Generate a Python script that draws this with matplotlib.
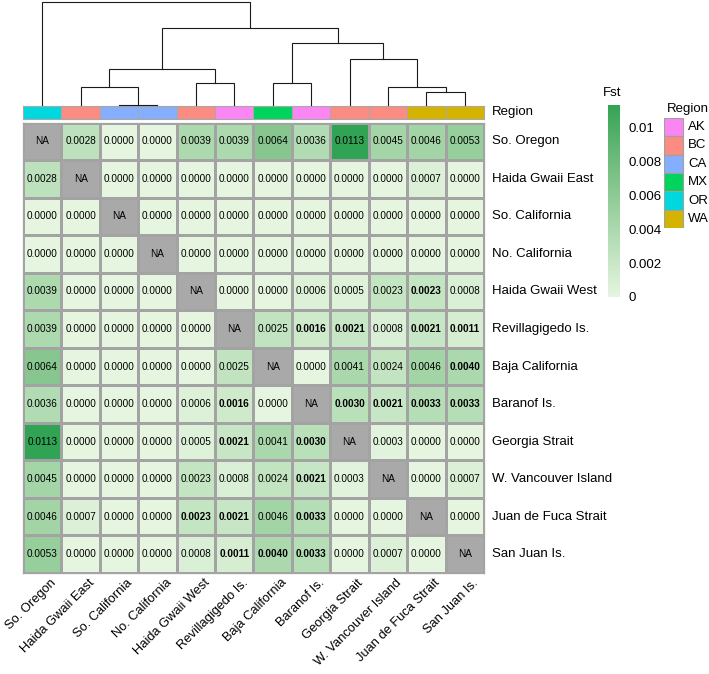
import numpy as np
import matplotlib
matplotlib.use("Agg")
import matplotlib.pyplot as plt
from matplotlib.colors import ListedColormap, Normalize
from matplotlib.patches import Rectangle

plt.rcParams['font.family'] = ['Liberation Sans', 'DejaVu Sans']

# ---------------- data ----------------
sites = ["So. Oregon", "Haida Gwaii East", "So. California", "No. California",
         "Haida Gwaii West", "Revillagigedo Is.", "Baja California", "Baranof Is.",
         "Georgia Strait", "W. Vancouver Island", "Juan de Fuca Strait", "San Juan Is."]
regions = ["OR", "BC", "CA", "CA", "BC", "AK", "MX", "AK", "BC", "BC", "WA", "WA"]

nan = np.nan
fst = np.array([
    [nan, .0028, 0, 0, .0039, .0039, .0064, .0036, .0113, .0045, .0046, .0053],
    [.0028, nan, 0, 0, 0, 0, 0, 0, 0, 0, .0007, 0],
    [0, 0, nan, 0, 0, 0, 0, 0, 0, 0, 0, 0],
    [0, 0, 0, nan, 0, 0, 0, 0, 0, 0, 0, 0],
    [.0039, 0, 0, 0, nan, 0, 0, .0006, .0005, .0023, .0023, .0008],
    [.0039, 0, 0, 0, 0, nan, .0025, .0016, .0021, .0008, .0021, .0011],
    [.0064, 0, 0, 0, 0, .0025, nan, 0, .0041, .0024, .0046, .0040],
    [.0036, 0, 0, 0, .0006, .0016, 0, nan, .0030, .0021, .0033, .0033],
    [.0113, 0, 0, 0, .0005, .0021, .0041, .0030, nan, .0003, 0, 0],
    [.0045, 0, 0, 0, .0023, .0008, .0024, .0021, .0003, nan, 0, .0007],
    [.0046, .0007, 0, 0, .0023, .0021, .0046, .0033, 0, 0, nan, 0],
    [.0053, 0, 0, 0, .0008, .0011, .0040, .0033, 0, .0007, 0, nan],
])
# significant (bold) values
bold = np.array([
    [0,0,0,0,0,0,0,0,0,0,0,0],
    [0,0,0,0,0,0,0,0,0,0,0,0],
    [0,0,0,0,0,0,0,0,0,0,0,0],
    [0,0,0,0,0,0,0,0,0,0,0,0],
    [0,0,0,0,0,0,0,0,0,0,1,0],
    [0,0,0,0,0,0,0,1,1,0,1,1],
    [0,0,0,0,0,0,0,0,0,0,0,1],
    [0,0,0,0,0,1,0,0,1,1,1,1],
    [0,0,0,0,0,1,0,1,0,0,0,0],
    [0,0,0,0,0,0,0,1,0,0,0,0],
    [0,0,0,0,1,1,0,1,0,0,0,0],
    [0,0,0,0,0,1,1,1,0,0,0,0],
], dtype=bool)

# dendrogram merges: (child_a, child_b, height); leaves 0..11, clusters 12+
merges = [
    (2, 3, 0.00),
    (1, 12, 0.17),
    (4, 5, 0.21),
    (13, 14, 0.35),
    (6, 7, 0.21),
    (10, 11, 0.13),
    (9, 17, 0.17),
    (8, 18, 0.44),
    (16, 19, 0.60),
    (15, 20, 0.74),
    (0, 21, 1.00),
]

region_levels = ["AK", "BC", "CA", "MX", "OR", "WA"]
region_colors = ["#FB86F3", "#FA8C82", "#86AEFF", "#00D45C", "#00D8E0", "#D4B400"]

cbar_ticks = [0, 0.002, 0.004, 0.006, 0.008, 0.01]
cbar_ticklabels = ["0", "0.002", "0.004", "0.006", "0.008", "0.01"]

# ---------------- colour map (LAB interpolation) ----------------
M_RGB2XYZ = np.array([[0.4124, 0.3576, 0.1805], [0.2126, 0.7152, 0.0722], [0.0193, 0.1192, 0.9505]])
WP = np.array([0.95047, 1.0, 1.08883])

def srgb_to_lab(rgb):
    rgb = np.asarray(rgb, float)
    lin = np.where(rgb <= 0.04045, rgb / 12.92, ((rgb + 0.055) / 1.055) ** 2.4)
    t = (M_RGB2XYZ @ lin) / WP
    f = np.where(t > (6/29) ** 3, np.cbrt(t), t / (3 * (6/29) ** 2) + 4/29)
    return np.array([116 * f[1] - 16, 500 * (f[0] - f[1]), 200 * (f[1] - f[2])])

def lab_to_srgb(lab):
    L, a, b = lab
    fy = (L + 16) / 116
    f = np.array([fy + a / 500, fy, fy - b / 200])
    t = np.where(f > 6/29, f ** 3, 3 * (6/29) ** 2 * (f - 4/29))
    lin = np.clip(np.linalg.inv(M_RGB2XYZ) @ (t * WP), 0, 1)
    rgb = np.where(lin <= 0.0031308, lin * 12.92, 1.055 * lin ** (1 / 2.4) - 0.055)
    return np.clip(rgb, 0, 1)

lo = np.array([229, 245, 224]) / 255
hi = np.array([49, 163, 84]) / 255
lab_lo, lab_hi = srgb_to_lab(lo), srgb_to_lab(hi)
cols = [lab_to_srgb(lab_lo + (lab_hi - lab_lo) * s) for s in np.linspace(0, 1, 256)]
cmap = ListedColormap(cols)
cmap.set_bad("#A9A9A9")
vmax = np.nanmax(fst)
norm = Normalize(0, vmax)

# ---------------- figure ----------------
W, H = 709, 674
fig = plt.figure(figsize=(W / 100, H / 100), dpi=100)

def ax_px(x0, y0, x1, y1):
    return fig.add_axes([x0 / W, 1 - y1 / H, (x1 - x0) / W, (y1 - y0) / H])

n = len(sites)
hx0, hx1, hy0, hy1 = 23, 484, 122.5, 573
grid_col = "#A3A3A3"

# heatmap
ax = ax_px(hx0, hy0, hx1, hy1)
mesh = ax.pcolormesh(np.ma.masked_invalid(fst), cmap=cmap, norm=norm,
                     edgecolors=grid_col, linewidth=0.75)
ax.set_xlim(0, n)
ax.set_ylim(n, 0)
ax.set_xticks([])
ax.set_yticks([])
for s in ax.spines.values():
    s.set_color(grid_col)
    s.set_linewidth(0.9)
for i in range(n):
    for j in range(n):
        v = fst[i, j]
        txt = "NA" if np.isnan(v) else f"{v:.4f}"
        ax.text(j + 0.5, i + 0.5, txt, ha="center", va="center", fontsize=7.2,
                fontweight="bold" if bold[i, j] else "normal", color="black")
# row labels
for i, name in enumerate(sites):
    ax.text(n + 0.2, i + 0.5, name, ha="left", va="center", fontsize=9.5, clip_on=False)
# column labels
for j, name in enumerate(sites):
    ax.text(j + 0.7, n + 0.1, name, ha="right", va="top", rotation=45,
            rotation_mode="anchor", fontsize=9.3, clip_on=False)

# annotation bar
axa = ax_px(hx0, 106, hx1, 119)
ann = np.array([[region_levels.index(r) for r in regions]])
axa.pcolormesh(ann, cmap=ListedColormap(region_colors), vmin=-0.5, vmax=len(region_levels) - 0.5,
               edgecolors="#A8A8A8", linewidth=0.7)
axa.set_xlim(0, n)
axa.set_ylim(0, 1)
axa.set_xticks([])
axa.set_yticks([])
for s in axa.spines.values():
    s.set_color("#A8A8A8")
    s.set_linewidth(0.8)
axa.text(n + 0.2, 0.5, "Region", ha="left", va="center", fontsize=9.5, clip_on=False)

# dendrogram
axd = ax_px(hx0, 1.5, hx1, 105)
pos = {i: i + 0.5 for i in range(n)}
hgt = {i: 0.0 for i in range(n)}
for k, (a, b, h) in enumerate(merges):
    nid = n + k
    xa, xb = pos[a], pos[b]
    axd.plot([xa, xa, xb, xb], [hgt[a], h, h, hgt[b]], color="#1A1A1A", lw=0.8,
             solid_joinstyle="miter", clip_on=False)
    pos[nid] = (xa + xb) / 2
    hgt[nid] = h
axd.set_xlim(0, n)
axd.set_ylim(0, max(m[2] for m in merges))
axd.axis("off")

# colorbar
cax = ax_px(608, 105, 620, 297)
cb = fig.colorbar(mesh, cax=cax, ticks=cbar_ticks)
cb.set_ticklabels(cbar_ticklabels)
cb.outline.set_visible(False)
cax.tick_params(length=0, pad=6, labelsize=9.5)
fig.text(612 / W, 1 - 93 / H, "Fst", ha="center", va="center", fontsize=9.5)

# region legend
axl = ax_px(664, 118, 700, 228)
axl.set_xlim(0, 1)
axl.set_ylim(len(region_levels), 0)
axl.axis("off")
for k, (lev, c) in enumerate(zip(region_levels, region_colors)):
    axl.add_patch(Rectangle((0, k), 19 / 36, 1, facecolor=c, edgecolor="#A0A0A0", lw=0.8))
    axl.text(24 / 36, k + 0.5, lev, ha="left", va="center", fontsize=9.5, clip_on=False)
fig.text(667 / W, 1 - 109 / H, "Region", ha="left", va="center", fontsize=9.5)

fig.savefig("out.png", dpi=100)
